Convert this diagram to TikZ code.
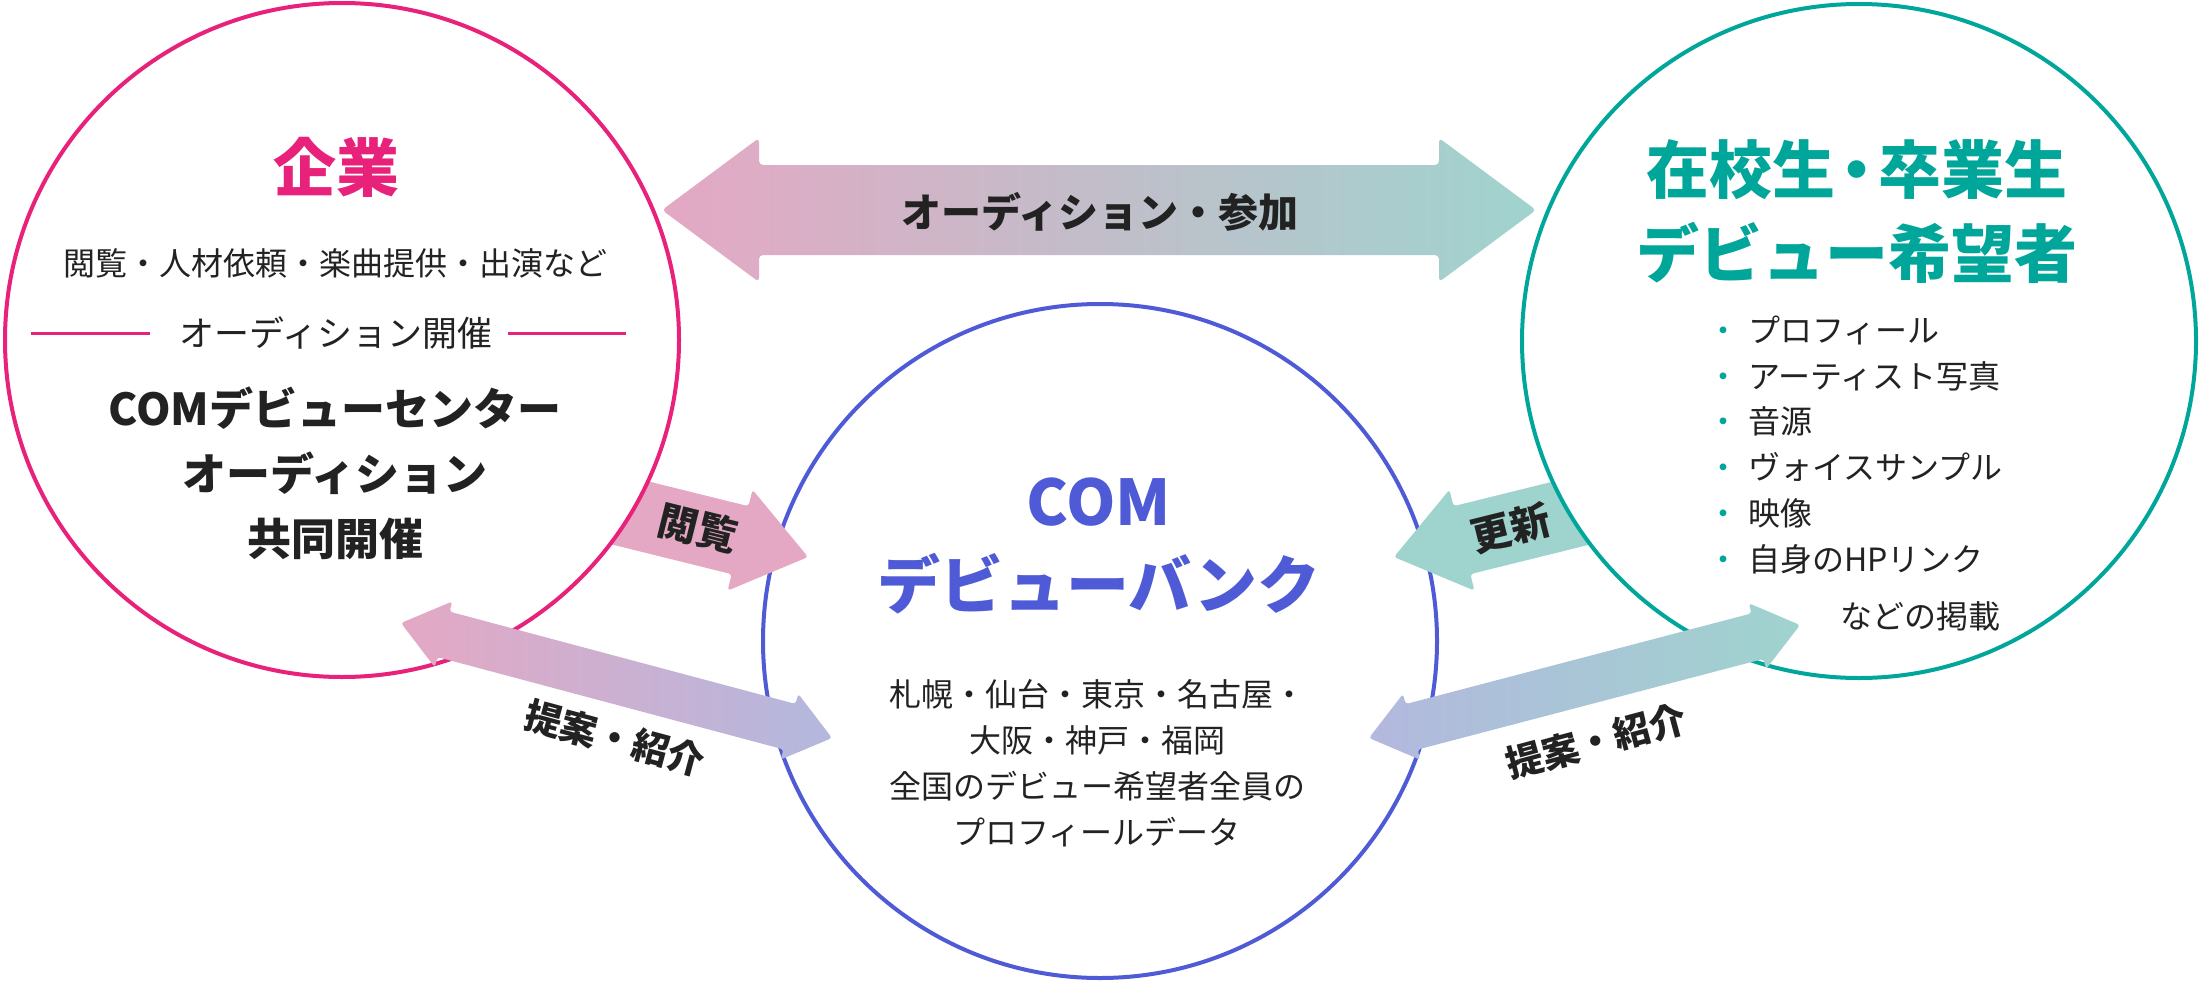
\documentclass[tikz,border=0pt]{standalone}
\usepackage{fontspec}
\setmainfont{Noto Sans CJK JP}
\usetikzlibrary{calc}

\definecolor{corppink}{HTML}{E8217A}
\definecolor{talentteal}{HTML}{00A69A}
\definecolor{bankblue}{HTML}{4F5AD6}
\definecolor{arrpink}{HTML}{E4A8C4}
\definecolor{arrteal}{HTML}{9FD3CE}
\definecolor{arrlav}{HTML}{B3B8DE}
\definecolor{ink}{HTML}{222222}

% block arrow: style, tail, tip, half shaft, half head, head length
\newcommand{\blockarrow}[6]{%
  \coordinate (bah) at ($(#3)!#6!(#2)$);
  \path[#1] ($(#2)!#4!90:(#3)$) -- ($(bah)!#4!90:(#3)$) -- ($(bah)!#5!90:(#3)$) -- (#3)
    -- ($(bah)!#5!-90:(#3)$) -- ($(bah)!#4!-90:(#3)$) -- ($(#2)!#4!-90:(#3)$) -- cycle;
}
% double block arrow: style, tip a, tip b, half shaft, half head, head length
\newcommand{\twinarrow}[6]{%
  \coordinate (twa) at ($(#2)!#6!(#3)$);
  \coordinate (twb) at ($(#3)!#6!(#2)$);
  \path[#1] (#2) -- ($(twa)!#5!90:(#3)$) -- ($(twa)!#4!90:(#3)$) -- ($(twb)!#4!90:(#3)$)
    -- ($(twb)!#5!90:(#3)$) -- (#3) -- ($(twb)!#5!-90:(#3)$) -- ($(twb)!#4!-90:(#3)$)
    -- ($(twa)!#4!-90:(#3)$) -- ($(twa)!#5!-90:(#3)$) -- cycle;
}

\begin{document}
\begin{tikzpicture}[x=1pt,y=-1pt,
    ring/.style={circle,line width=4pt,fill=white,minimum size=674pt,inner sep=0pt},
    body/.style={text=ink,align=center,inner sep=0pt},
    title/.style={align=center,inner sep=0pt,font=\bfseries\fontsize{63}{84}\selectfont},
    tag/.style={text=ink,inner sep=0pt,font=\bfseries\fontsize{40}{48}\selectfont},
    row/.style={inner sep=0pt,text height=28pt,text depth=3.5pt,font=\fontsize{32}{40}\selectfont}]
\useasboundingbox (0,0) rectangle (2202,982);

% bank
\node[ring,draw=bankblue] (bank) at (1100,641) {};

% browse / update
\coordinate (view-a) at (590,503);
\coordinate (view-b) at (808,557);
\blockarrow{fill=arrpink,rounded corners=3pt}{view-a}{view-b}{35pt}{52pt}{70pt}
\coordinate (upd-a) at (1612,503);
\coordinate (upd-b) at (1394,557);
\blockarrow{fill=arrteal,rounded corners=3pt}{upd-a}{upd-b}{35pt}{52pt}{70pt}

% companies and students
\node[ring,draw=corppink] (corp) at (342,340) {};
\node[ring,draw=talentteal] (talent) at (1859,341) {};

% audition
\coordinate (join-a) at (662,210);
\coordinate (join-b) at (1536,210);
\twinarrow{shade,left color=arrpink,right color=arrteal,rounded corners=4pt}{join-a}{join-b}{45pt}{72pt}{97pt}

% proposals
\coordinate (propl-a) at (401,623);
\coordinate (propl-b) at (832,738);
\twinarrow{shade,left color=arrpink,right color=arrlav,rounded corners=3pt}{propl-a}{propl-b}{23.5pt}{34pt}{44pt}
\coordinate (propr-a) at (1369,738);
\coordinate (propr-b) at (1800,625);
\twinarrow{shade,left color=arrlav,right color=arrteal,rounded corners=3pt}{propr-a}{propr-b}{23.5pt}{34pt}{44pt}

\node[tag,font=\bfseries\fontsize{40}{48}\selectfont] (joinlbl) at (1100,212) {オーディション・参加};
\node[tag,rotate=-14] (viewlbl) at (698,528) {閲覧};
\node[tag,rotate=14] (updlbl) at (1511,528) {更新};
\node[tag,rotate=-15,font=\bfseries\fontsize{37}{44}\selectfont] (proplbl-l) at (615,738) {提案・紹介};
\node[tag,rotate=15,font=\bfseries\fontsize{37}{44}\selectfont] (proplbl-r) at (1596,741) {提案・紹介};

% corp texts
\node[title,text=corppink] (corptitle) at (336,167) {企業};
\node[body,font=\fontsize{32}{40}\selectfont] (corpwork) at (335,263) {閲覧・人材依頼・楽曲提供・出演など};
\node[body,font=\fontsize{35}{40}\selectfont] (corpaudi) at (336,333) {オーディション開催};
\draw[corppink,line width=3pt] (31,333) -- (150,333);
\draw[corppink,line width=3pt] (508,333) -- (626,333);
\node[body,font=\bfseries\fontsize{44}{65}\selectfont] (corpjoint) at (335,473) {COMデビューセンター\\オーディション\\共同開催};

% talent texts
\node[title,text=talentteal] (talenttitle) at (1857,212) {在校生\kern-10pt・\kern-10pt卒業生\\デビュー希望者};
\foreach \entry [count=\i] in {プロフィール,アーティスト写真,音源,ヴォイスサンプル,映像,自身のHPリンク} {
  \pgfmathsetmacro{\yy}{330+45.8*(\i-1)}
  \node[row,text=talentteal] (dot\i) at (1723,\yy) {・};
  \node[row,text=ink,anchor=west] (entry\i) at (1748,\yy) {\entry};
}
\node[row,text=ink,anchor=east] (entrymore) at (2001,616) {などの掲載};

% bank texts
\node[title,text=bankblue,font=\bfseries\fontsize{63}{83}\selectfont] (banktitle) at (1099,546) {COM\\デビューバンク};
\node[body,font=\fontsize{32}{46}\selectfont] (bankdata) at (1097,763) {札幌・仙台・東京・名古屋・\\大阪・神戸・福岡\\全国のデビュー希望者全員の\\プロフィールデータ};
\end{tikzpicture}
\end{document}
